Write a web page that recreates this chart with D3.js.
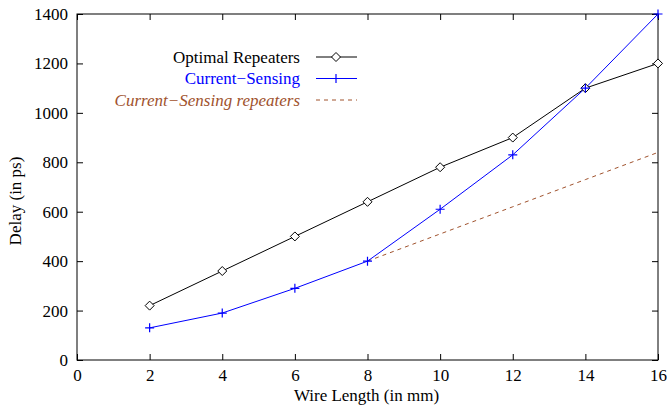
<!DOCTYPE html>
<html><head><meta charset="utf-8">
<script src="https://cdn.jsdelivr.net/npm/d3@7"></script>
<style>
body{margin:0;background:#fff;}
text{font-family:"Liberation Serif","Times New Roman",serif;}
</style></head>
<body><svg id="c" width="667" height="408"></svg>
<script>
const wireLength = [2, 4, 6, 8, 10, 12, 14, 16];
const optimalRepeaters = [220, 360, 500, 640, 780, 900, 1100, 1200];
const currentSensing = [130, 190, 290, 400, 610, 830, 1100, 1400];
const csRepeatersX = [8, 10, 12, 14, 16];
const csRepeaters = [400, 510, 620, 730, 840];
const xTicks = [0, 2, 4, 6, 8, 10, 12, 14, 16];
const yTicks = [0, 200, 400, 600, 800, 1000, 1200, 1400];
const seriesNames = ["Optimal Repeaters", "Current\u2212Sensing", "Current\u2212Sensing repeaters"];

const svg = d3.select("#c");
const L = 77, R = 658, T = 14, B = 360;
const x = d3.scaleLinear().domain([0, 16]).range([L, R]);
const y = d3.scaleLinear().domain([0, 1400]).range([B, T]);
const fs = 17;

// frame
svg.append("rect").attr("x", L).attr("y", T).attr("width", R - L).attr("height", B - T)
  .attr("fill", "none").attr("stroke", "#000").attr("stroke-width", 1);

// axes
const xb = svg.append("g").attr("transform", `translate(0,${B})`)
  .call(d3.axisBottom(x).tickValues(xTicks).tickSize(-6).tickPadding(9).tickFormat(d3.format("d")));
const xt = svg.append("g").attr("transform", `translate(0,${T})`)
  .call(d3.axisTop(x).tickValues(xTicks).tickSize(-6).tickFormat(""));
const yl = svg.append("g").attr("transform", `translate(${L},0)`)
  .call(d3.axisLeft(y).tickValues(yTicks).tickSize(-6).tickPadding(9).tickFormat(d3.format("d")));
const yr = svg.append("g").attr("transform", `translate(${R},0)`)
  .call(d3.axisRight(y).tickValues(yTicks).tickSize(-6).tickFormat(""));
[xb, xt, yl, yr].forEach(g => {
  g.attr("font-family", "Liberation Serif, serif");
  g.select(".domain").remove();
  g.selectAll("line").attr("stroke", "#000");
  g.selectAll("text").attr("font-size", fs).attr("fill", "#000");
});

// axis titles
svg.append("text").attr("x", (L + R) / 2 - 1).attr("y", 401).attr("text-anchor", "middle")
  .attr("font-size", fs).text("Wire Length (in mm)");
svg.append("text").attr("transform", `translate(21,201) rotate(-90)`)
  .attr("text-anchor", "middle").attr("font-size", fs).text("Delay (in ps)");

const line = d3.line().x(d => x(d[0])).y(d => y(d[1]));
const optData = wireLength.map((w, i) => [w, optimalRepeaters[i]]);
const csData = wireLength.map((w, i) => [w, currentSensing[i]]);
const csrData = csRepeatersX.map((w, i) => [w, csRepeaters[i]]);

const brown = "#a0522d", blue = "#0000ff";

svg.append("path").datum(csrData).attr("d", line).attr("fill", "none")
  .attr("stroke", brown).attr("stroke-width", 1).attr("stroke-dasharray", "4,4");
svg.append("path").datum(optData).attr("d", line).attr("fill", "none")
  .attr("stroke", "#000").attr("stroke-width", 1);
svg.append("path").datum(csData).attr("d", line).attr("fill", "none")
  .attr("stroke", blue).attr("stroke-width", 1);

function diamond(g, cx, cy) {
  const s = 4.5;
  g.append("path").attr("d", `M${cx},${cy - s}L${cx + s},${cy}L${cx},${cy + s}L${cx - s},${cy}Z`)
    .attr("fill", "#fff").attr("stroke", "#000").attr("stroke-width", 1);
}
function plus(g, cx, cy) {
  const s = 4.5;
  g.append("path").attr("d", `M${cx - s},${cy}H${cx + s}M${cx},${cy - s}V${cy + s}`)
    .attr("stroke", blue).attr("stroke-width", 1.2).attr("fill", "none");
}
optData.forEach(d => diamond(svg, x(d[0]), y(d[1])));
csData.forEach(d => plus(svg, x(d[0]), y(d[1])));

// legend
const lx1 = 316, lx2 = 357, lm = 336, tx = 300;
const rows = [57, 78.5, 100];
const lg = svg.append("g");
lg.append("text").attr("x", tx).attr("y", rows[0] + 5.5).attr("text-anchor", "end")
  .attr("font-size", fs).attr("fill", "#000").text(seriesNames[0]);
lg.append("line").attr("x1", lx1).attr("x2", lx2).attr("y1", rows[0]).attr("y2", rows[0]).attr("stroke", "#000");
diamond(lg, lm, rows[0]);
lg.append("text").attr("x", tx).attr("y", rows[1] + 5.5).attr("text-anchor", "end")
  .attr("font-size", fs).attr("fill", blue).text(seriesNames[1]);
lg.append("line").attr("x1", lx1).attr("x2", lx2).attr("y1", rows[1]).attr("y2", rows[1]).attr("stroke", blue);
plus(lg, lm, rows[1]);
lg.append("text").attr("x", tx).attr("y", rows[2] + 5.5).attr("text-anchor", "end")
  .attr("font-size", fs).attr("fill", brown).attr("font-style", "italic").text(seriesNames[2]);
lg.append("line").attr("x1", lx1).attr("x2", lx2).attr("y1", rows[2]).attr("y2", rows[2])
  .attr("stroke", brown).attr("stroke-dasharray", "4,4");
</script></body></html>
